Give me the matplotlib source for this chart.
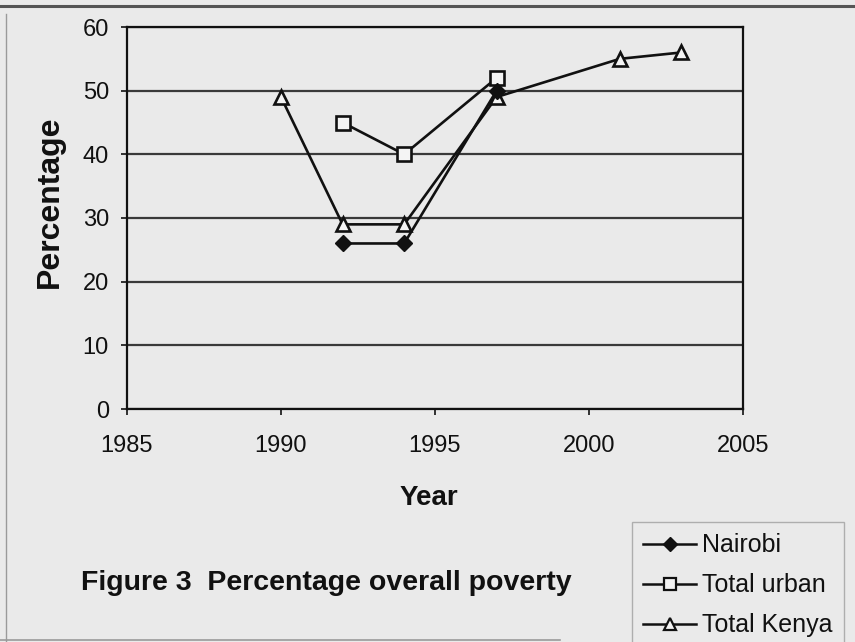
import matplotlib
matplotlib.use("Agg")
import matplotlib.pyplot as plt
from matplotlib.lines import Line2D

plt.rcParams['font.family'] = ['Liberation Sans', 'DejaVu Sans']

# Survey years and percentage of population in overall poverty
nairobi_years = [1992, 1994, 1997]
nairobi_pct = [26, 26, 50]

urban_years = [1992, 1994, 1997]
urban_pct = [45, 40, 52]

kenya_years = [1990, 1992, 1994, 1997, 2001, 2003]
kenya_pct = [49, 29, 29, 49, 55, 56]

x_ticks = [1985, 1990, 1995, 2000, 2005]
y_ticks = [0, 10, 20, 30, 40, 50, 60]

paper = '#eaeaea'
ink = '#111111'

W, H = 855, 642
fig = plt.figure(figsize=(W / 100, H / 100), dpi=100, facecolor=paper)
ax = fig.add_axes([127 / W, 1 - 409 / H, (743 - 127) / W, (409 - 27) / H])
ax.set_facecolor(paper)

ax.plot(kenya_years, kenya_pct, color=ink, lw=1.9, marker='^', ms=10.5,
        mfc='#f4f4f4', mec=ink, mew=1.9, zorder=3, label='Total Kenya')
ax.plot(urban_years, urban_pct, color=ink, lw=1.9, marker='s', ms=10,
        mfc='#f4f4f4', mec=ink, mew=1.9, zorder=4, label='Total urban')
ax.plot(nairobi_years, nairobi_pct, color=ink, lw=1.9, marker='D', ms=8,
        mfc=ink, mec=ink, zorder=5, label='Nairobi')

ax.set_xlim(1985, 2005)
ax.set_ylim(0, 60)
ax.set_xticks(x_ticks)
ax.set_yticks(y_ticks)
ax.tick_params(axis='both', labelsize=17, length=4, width=1.2, color=ink,
               labelcolor=ink, direction='out')
ax.tick_params(axis='x', pad=15)
ax.tick_params(axis='y', pad=9)
ax.yaxis.grid(True, color='#3a3a3a', lw=1.6)
ax.set_axisbelow(True)
for side in ['left', 'bottom', 'right', 'top']:
    ax.spines[side].set_color(ink)
    ax.spines[side].set_linewidth(1.6)

ax.set_xlabel('Year', fontsize=20, fontweight='bold', color=ink, va='center')
ax.xaxis.set_label_coords(0.49, (409 - 498) / 382)
ax.set_ylabel('Percentage', fontsize=23, fontweight='bold', color=ink, va='center')
ax.yaxis.set_label_coords((50 - 127) / 616, (409 - 202) / 382)

fig.text(81 / W, 1 - 583 / H, 'Figure 3  Percentage overall poverty',
         fontsize=20.5, fontweight='bold', color=ink, ha='left', va='center')

handles = [
    Line2D([], [], color=ink, lw=1.8, marker='D', ms=7.5, mfc=ink, mec=ink),
    Line2D([], [], color=ink, lw=1.8, marker='s', ms=8.5, mfc='#f4f4f4', mec=ink, mew=1.6),
    Line2D([], [], color=ink, lw=1.8, marker='^', ms=8.5, mfc='#f4f4f4', mec=ink, mew=1.6),
]
leg = fig.legend(handles, ['Nairobi', 'Total urban', 'Total Kenya'],
                 loc='upper left', bbox_to_anchor=(632 / W, 1 - 522 / H),
                 fontsize=18, frameon=True, fancybox=False, handlelength=2.1,
                 handletextpad=0.25, labelspacing=0.64, borderpad=0.45,
                 borderaxespad=0)
leg.get_frame().set_facecolor(paper)
leg.get_frame().set_edgecolor('#a0a0a0')
leg.get_frame().set_linewidth(1.0)
for t in leg.get_texts():
    t.set_color(ink)

# Page edges of the printed sheet
fig.add_artist(Line2D([0, 1], [1 - 6 / H, 1 - 6 / H], transform=fig.transFigure,
                      color='#555555', lw=2.2))
fig.add_artist(Line2D([6 / W, 6 / W], [0, 1 - 14 / H], transform=fig.transFigure,
                      color='#9a9a9a', lw=1.0))
fig.add_artist(Line2D([0, 560 / W], [2 / H, 2 / H], transform=fig.transFigure,
                      color='#9a9a9a', lw=1.2))

fig.savefig('out.png', dpi=100, facecolor=paper)
